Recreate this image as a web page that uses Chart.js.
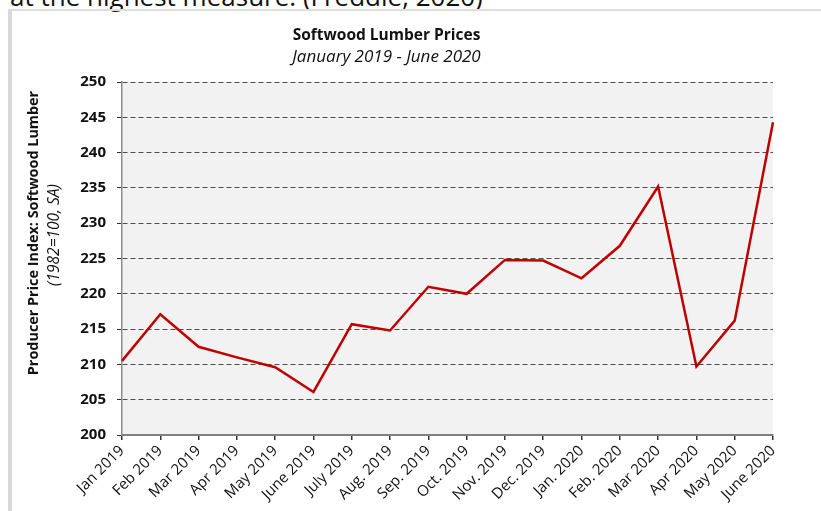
<!DOCTYPE html>
<html>
<head>
<meta charset="utf-8">
<script src="https://cdn.jsdelivr.net/npm/chart.js@4.4.1/dist/chart.umd.min.js"></script>
<style>
  body { margin: 0; background: #fff; font-family: "Open Sans", sans-serif; }
  #wrap { position: relative; width: 821px; height: 511px; overflow: hidden; }
  #cut { position: absolute; left: 10px; top: -17px; font-size: 26px; line-height: 26px; color: #111; white-space: nowrap; }
  #frame { position: absolute; left: 8px; top: 9px; right: -10px; bottom: -10px;
           border-left: 4px solid #d9d9d9; border-top: 2px solid #dedede; }
  canvas { position: absolute; left: 0; top: 0; }
  .ytitle { position: absolute; white-space: nowrap; transform: translate(-50%, -50%) rotate(-90deg); color: #111; }
</style>
</head>
<body>
<div id="wrap">
  <div id="cut">at the highest measure. (Freddie, 2020)</div>
  <div id="frame"></div>
  <canvas id="lumberChart" width="821" height="511"></canvas>
  <div class="ytitle" style="left:32px; top:233px; font-weight:bold; font-size:14.4px;">Producer Price Index: Softwood Lumber</div>
  <div class="ytitle" style="left:53px; top:235px; font-style:italic; font-size:15.5px;">(1982=100, SA)</div>
</div>
<script>
const months = ["Jan 2019", "Feb 2019", "Mar 2019", "Apr 2019", "May 2019", "June 2019",
  "July 2019", "Aug. 2019", "Sep. 2019", "Oct. 2019", "Nov. 2019", "Dec. 2019",
  "Jan. 2020", "Feb. 2020", "Mar 2020", "Apr 2020", "May 2020", "June 2020"];
const lumberIndex = [210.5, 217.1, 212.5, 211.0, 209.6, 206.1,
  215.7, 214.8, 221.0, 220.0, 224.8, 224.7,
  222.2, 226.8, 235.2, 209.7, 216.2, 244.3];
const yMin = 200;
const yMax = 250;
const yStep = 5;

const plotBg = {
  id: 'plotBg',
  beforeDraw(c) {
    const a = c.chartArea;
    c.ctx.save();
    c.ctx.fillStyle = '#f2f2f2';
    c.ctx.fillRect(a.left, a.top, a.right - a.left, a.bottom - a.top);
    c.ctx.restore();
  }
};

const font = "'Open Sans', sans-serif";

new Chart(document.getElementById("lumberChart"), {
  type: 'line',
  data: {
    labels: months,
    datasets: [{
      label: "Softwood Lumber",
      data: lumberIndex,
      borderColor: "#c00000",
      borderWidth: 2.5,
      pointRadius: 0,
      tension: 0
    }]
  },
  options: {
    responsive: false,
    animation: false,
    layout: { padding: { left: 0, right: 48, top: 0, bottom: 0 } },
    plugins: {
      legend: { display: false },
      tooltip: { enabled: false },
      title: {
        display: true,
        text: "Softwood Lumber Prices",
        color: '#111',
        font: { family: font, size: 15.5, weight: 'bold' },
        padding: { top: 26, bottom: 0 }
      },
      subtitle: {
        display: true,
        text: "January 2019 - June 2020",
        color: '#111',
        font: { family: font, size: 17, style: 'italic' },
        padding: { top: 2, bottom: 15 }
      }
    },
    scales: {
      x: {
        afterFit(s) { s.height = 76; },
        grid: { drawOnChartArea: false, drawTicks: true, tickLength: 5, color: '#333', lineWidth: 1.5 },
        border: { color: '#7f7f7f', width: 2 },
        ticks: {
          color: '#111', maxRotation: 45, minRotation: 45, autoSkip: false, padding: 2,
          font: { family: font, size: 15 }
        }
      },
      y: {
        min: yMin,
        max: yMax,
        afterFit(s) { s.width = 122; },
        grid: { color: '#4d4d4d', lineWidth: 1, tickLength: 5, tickColor: '#333', tickBorderDash: [] },
        border: { color: '#8c8c8c', width: 1.5, dash: [5, 3] },
        ticks: {
          stepSize: yStep, color: '#111', padding: 11,
          font: { family: font, size: 15, weight: 'bold' }
        }
      }
    }
  },
  plugins: [plotBg]
});
</script>
</body>
</html>
